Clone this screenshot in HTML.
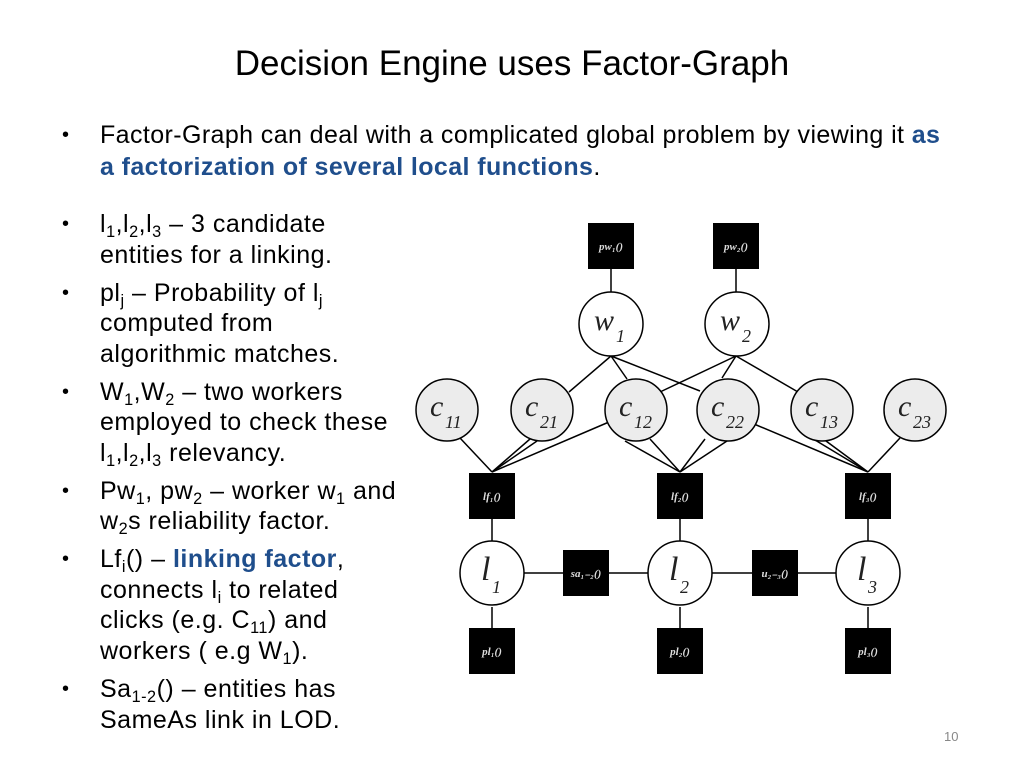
<!DOCTYPE html>
<html><head><meta charset="utf-8"><style>
body{margin:0;width:1024px;height:768px;background:#fff;position:relative;overflow:hidden;font-family:"Liberation Sans",Arial,sans-serif;color:#000}
.t{position:absolute;white-space:nowrap;line-height:30px}
.b{position:absolute;left:62px;font-size:20px;line-height:30px}
sub{font-size:0.65em;vertical-align:-0.3em;line-height:0}
.blue{color:#1f4e8c;font-weight:bold}
</style></head><body>
<div class="t" style="left:0;width:1024px;text-align:center;top:44px;font-size:35px;line-height:40px">Decision Engine uses Factor-Graph</div>

<div class="b" style="top:120px">•</div>
<div class="t" style="left:100px;top:120px;font-size:25px;letter-spacing:0.4px">Factor-Graph can deal with a complicated global problem by viewing it <span class="blue">as</span></div>
<div class="t" style="left:100px;top:152px;font-size:25px;letter-spacing:0.4px"><span class="blue">a factorization of several local functions</span>.</div>

<div style="font-size:25px;letter-spacing:0.5px">
<div class="b" style="top:209px">•</div>
<div class="t" style="left:100px;top:209px">l<sub>1</sub>,l<sub>2</sub>,l<sub>3</sub> – 3 candidate</div>
<div class="t" style="left:100px;top:240px">entities for a linking.</div>
<div class="b" style="top:278px">•</div>
<div class="t" style="left:100px;top:278px">pl<sub>j</sub> – Probability of l<sub>j</sub></div>
<div class="t" style="left:100px;top:308px">computed from</div>
<div class="t" style="left:100px;top:339px">algorithmic matches.</div>
<div class="b" style="top:377px">•</div>
<div class="t" style="left:100px;top:377px">W<sub>1</sub>,W<sub>2</sub> – two workers</div>
<div class="t" style="left:100px;top:407px">employed to check these</div>
<div class="t" style="left:100px;top:438px">l<sub>1</sub>,l<sub>2</sub>,l<sub>3</sub> relevancy.</div>
<div class="b" style="top:476px">•</div>
<div class="t" style="left:100px;top:476px">Pw<sub>1</sub>, pw<sub>2</sub> – worker w<sub>1</sub> and</div>
<div class="t" style="left:100px;top:506px">w<sub>2</sub>s reliability factor.</div>
<div class="b" style="top:544px">•</div>
<div class="t" style="left:100px;top:544px">Lf<sub>i</sub>() – <span class="blue">linking factor</span>,</div>
<div class="t" style="left:100px;top:575px">connects l<sub>i</sub> to related</div>
<div class="t" style="left:100px;top:605px">clicks (e.g. C<sub>11</sub>) and</div>
<div class="t" style="left:100px;top:636px">workers ( e.g W<sub>1</sub>).</div>
<div class="b" style="top:674px">•</div>
<div class="t" style="left:100px;top:674px">Sa<sub>1-2</sub>() – entities has</div>
<div class="t" style="left:100px;top:705px">SameAs link in LOD.</div>
</div>
<div class="t" style="left:944px;top:722px;font-size:13px;color:#888">10</div>

<svg width="1024" height="768" style="position:absolute;left:0;top:0" font-family="Liberation Serif, serif" font-style="italic">
<g stroke="#000" stroke-width="1.5">
<line x1="611" y1="269" x2="611" y2="292"/><line x1="736" y1="269" x2="736" y2="292"/>
<line x1="611" y1="356" x2="569" y2="392"/><line x1="611" y1="356" x2="627" y2="379"/><line x1="611" y1="356" x2="700" y2="391"/>
<line x1="736" y1="356" x2="660" y2="392"/><line x1="736" y1="356" x2="722" y2="378"/><line x1="736" y1="356" x2="798" y2="392"/>
<line x1="492" y1="472" x2="460" y2="438"/><line x1="492" y1="472" x2="530" y2="439"/><line x1="492" y1="472" x2="537" y2="441"/><line x1="492" y1="472" x2="609" y2="422"/>
<line x1="680" y1="472" x2="625" y2="441"/><line x1="680" y1="472" x2="650" y2="439"/><line x1="680" y1="472" x2="705" y2="439"/><line x1="680" y1="472" x2="727" y2="441"/>
<line x1="868" y1="472" x2="754" y2="424"/><line x1="868" y1="472" x2="815" y2="440"/><line x1="868" y1="472" x2="826" y2="441"/><line x1="868" y1="472" x2="900" y2="438"/>
<line x1="492" y1="519" x2="492" y2="541"/><line x1="680" y1="519" x2="680" y2="541"/><line x1="868" y1="519" x2="868" y2="541"/>
<line x1="492" y1="607" x2="492" y2="628"/><line x1="680" y1="607" x2="680" y2="628"/><line x1="868" y1="607" x2="868" y2="628"/>
<line x1="524" y1="573" x2="837" y2="573"/>
</g>
<g fill="#000">
<rect x="588" y="223" width="46" height="46"/><rect x="713" y="223" width="46" height="46"/>
<rect x="469" y="473" width="46" height="46"/><rect x="657" y="473" width="46" height="46"/><rect x="845" y="473" width="46" height="46"/>
<rect x="563" y="550" width="46" height="46"/><rect x="752" y="550" width="46" height="46"/>
<rect x="469" y="628" width="46" height="46"/><rect x="657" y="628" width="46" height="46"/><rect x="845" y="628" width="46" height="46"/>
</g>
<g fill="#ddd" font-size="11" font-weight="bold" text-anchor="middle">
<text x="611" y="250">pw₁()</text><text x="736" y="250">pw₂()</text>
<text x="492" y="500">lf₁()</text><text x="680" y="500">lf₂()</text><text x="868" y="500">lf₃()</text>
<text x="586" y="577">sa₁₋₂()</text><text x="775" y="577">u₂₋₃()</text>
<text x="492" y="655">pl₁()</text><text x="680" y="655">pl₂()</text><text x="868" y="655">pl₃()</text>
</g>
<g stroke="#000" stroke-width="1.5" fill="#fff">
<circle cx="611" cy="324" r="32"/><circle cx="737" cy="324" r="32"/>
<circle cx="492" cy="573" r="32"/><circle cx="680" cy="573" r="32"/><circle cx="868" cy="573" r="32"/>
</g>
<g stroke="#000" stroke-width="1.5" fill="#ececec">
<circle cx="447" cy="410" r="31"/><circle cx="542" cy="410" r="31"/><circle cx="636" cy="410" r="31"/>
<circle cx="728" cy="410" r="31"/><circle cx="822" cy="410" r="31"/><circle cx="915" cy="410" r="31"/>
</g>
<g fill="#222">
<text x="594" y="330" font-size="30">w</text><text x="616" y="342" font-size="18">1</text>
<text x="720" y="330" font-size="30">w</text><text x="742" y="342" font-size="18">2</text>
<g font-size="30"><text x="430" y="416">c</text><text x="525" y="416">c</text><text x="619" y="416">c</text><text x="711" y="416">c</text><text x="805" y="416">c</text><text x="898" y="416">c</text></g>
<g font-size="18"><text x="445" y="428">11</text><text x="540" y="428">21</text><text x="634" y="428">12</text><text x="726" y="428">22</text><text x="820" y="428">13</text><text x="913" y="428">23</text></g>
<g font-size="34"><text x="481" y="580">l</text><text x="669" y="580">l</text><text x="857" y="580">l</text></g>
<g font-size="18"><text x="492" y="593">1</text><text x="680" y="593">2</text><text x="868" y="593">3</text></g>
</g>
</svg>
</body></html>
